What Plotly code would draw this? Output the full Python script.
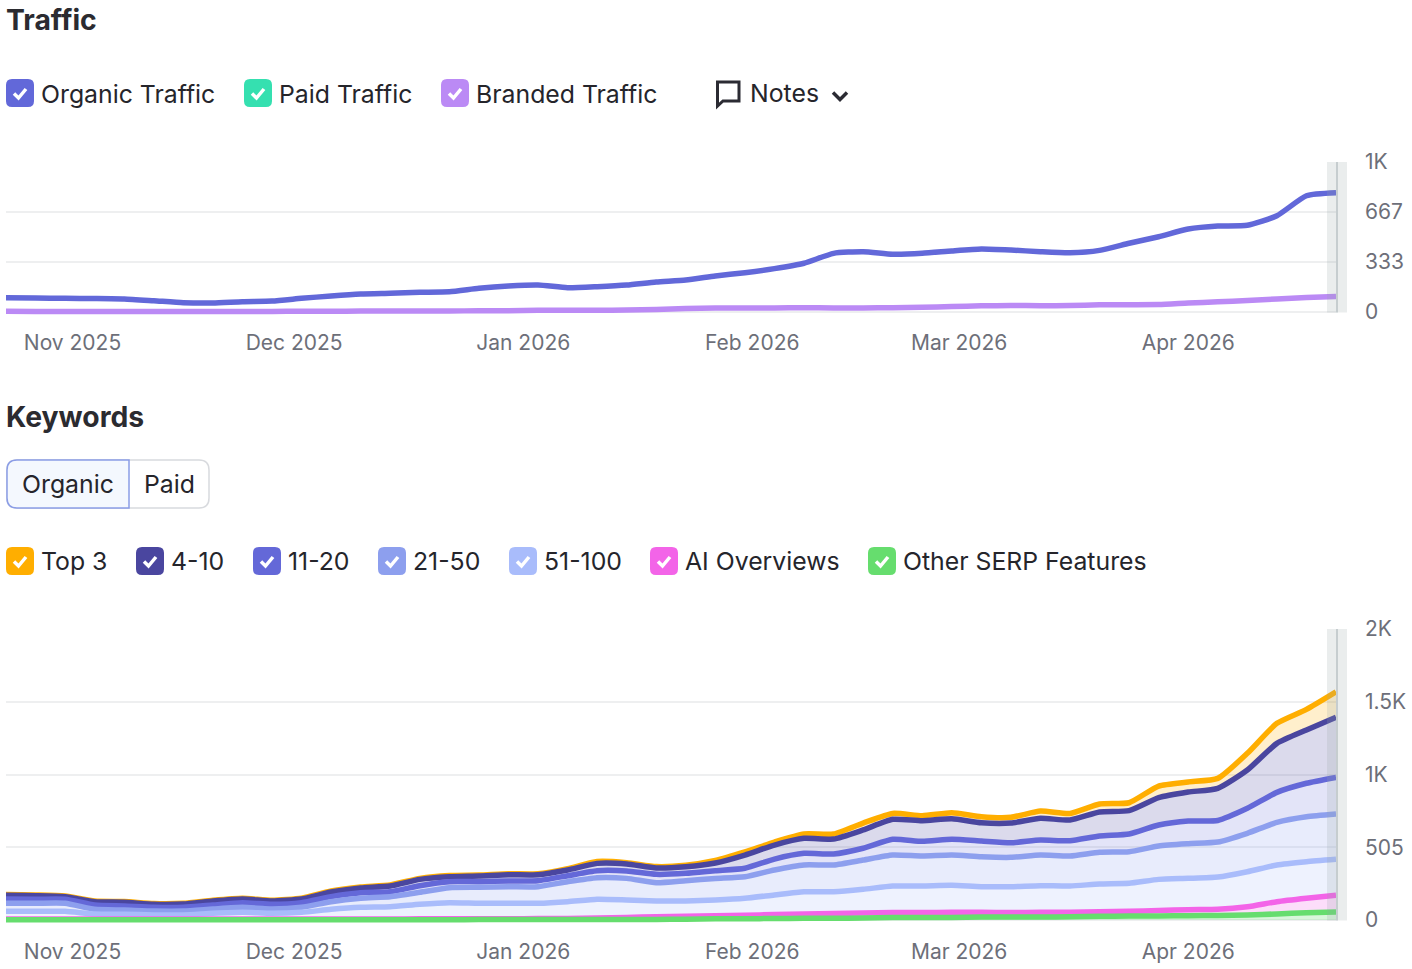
import pandas as pd
import plotly.graph_objects as go

W, H = 1412, 969

# Four-day samples shared by both charts
dates = pd.date_range("2025-10-23", periods=46, freq="4D")
month_ticks = ["2025-11-01", "2025-12-01", "2026-01-01", "2026-02-01", "2026-03-01", "2026-04-01"]
month_labels = ["Nov 2025", "Dec 2025", "Jan 2026", "Feb 2026", "Mar 2026", "Apr 2026"]

organic_traffic = [95, 93, 91, 90, 87, 75, 62, 60, 69, 73, 91, 107, 120, 125, 131, 135,
                   158, 173, 180, 162, 169, 180, 200, 213, 240, 262, 289, 325, 391, 402,
                   385, 391, 407, 420, 413, 402, 395, 411, 458, 502, 553, 573, 578, 642, 775, 795]
branded_traffic = [5, 4, 3, 3, 3, 3, 3, 3, 3, 4, 5, 5, 6, 6, 6, 7,
                   8, 9, 11, 11, 11, 13, 16, 23, 27, 27, 27, 29, 27, 27,
                   29, 31, 37, 41, 43, 42, 43, 48, 49, 50, 60, 68, 77, 87, 97, 103]

# Keyword levels are cumulative: each list is the running total up to that position band
top3_level = [177, 174, 167, 132, 128, 114, 116, 137, 151, 137, 151, 201, 229, 243, 289, 309,
              312, 321, 321, 356, 406, 398, 371, 380, 413, 472, 541, 597, 597, 673,
              740, 724, 745, 717, 713, 756, 740, 805, 814, 930, 958, 983, 1157, 1365, 1462, 1584]
pos4_10_level = [171, 169, 162, 127, 123, 109, 111, 132, 146, 132, 146, 194, 222, 236, 282, 300,
                 305, 314, 314, 347, 393, 389, 361, 370, 396, 451, 520, 567, 562, 625,
                 699, 689, 703, 675, 673, 706, 694, 750, 759, 849, 888, 914, 1041, 1226, 1319, 1407]
pos11_20_level = [146, 144, 144, 104, 97, 88, 88, 104, 120, 109, 120, 162, 189, 196, 238, 266,
                  266, 271, 273, 307, 342, 340, 317, 324, 342, 359, 423, 463, 458, 498,
                  560, 546, 560, 548, 536, 555, 550, 583, 597, 659, 687, 691, 775, 886, 949, 990]
pos21_50_level = [116, 116, 116, 74, 69, 62, 62, 76, 88, 76, 88, 127, 151, 162, 192, 224,
                  227, 231, 231, 266, 294, 289, 259, 273, 288, 300, 347, 382, 382, 416,
                  451, 444, 451, 439, 435, 451, 444, 470, 474, 514, 530, 541, 602, 678, 717, 736]
pos51_100_level = [60, 60, 60, 42, 40, 35, 35, 46, 53, 46, 53, 74, 88, 92, 109, 120,
                   116, 116, 116, 127, 144, 139, 132, 132, 139, 151, 174, 196, 196, 213,
                   236, 236, 241, 231, 231, 238, 236, 250, 255, 282, 289, 298, 335, 382, 405, 421]
ai_level = [7, 7, 7, 7, 7, 7, 7, 7, 7, 7, 7, 7, 7, 7, 8, 8,
            9, 9, 10, 10, 14, 18, 22, 26, 30, 33, 38, 42, 45, 48,
            52, 52, 53, 53, 52, 53, 54, 57, 60, 66, 72, 74, 92, 127, 151, 172]
serp_level = [1, 1, 1, 1, 1, 1, 1, 1, 1, 1, 1, 1, 1, 1, 1, 1,
              3, 3, 3, 3, 3, 4, 4, 5, 8, 9, 10, 12, 12, 14,
              18, 18, 18, 20, 20, 21, 22, 26, 27, 28, 30, 32, 35, 42, 50, 55]

INDIGO = "#6268d9"
PURPLE = "#bb8af5"
TEAL = "#35e0b0"
TEXT = "#25252b"
MUTED = "#6d6f79"
FONT = "Inter"
LINE_WIDTH = 5.5
CURVE = dict(shape="spline", smoothing=0.55)

# Drawn from the bottom of the stack upward
keyword_bands = [
    ("Other SERP Features", serp_level, "#66dd6e", "rgba(102,221,110,0.25)"),
    ("AI Overviews", ai_level, "#f364e8", "rgba(243,100,232,0.22)"),
    ("51-100", pos51_100_level, "#a9bcfb", "rgba(169,188,251,0.2)"),
    ("21-50", pos21_50_level, "#8d9fee", "rgba(141,159,238,0.2)"),
    ("11-20", pos11_20_level, "#6468d8", "rgba(100,104,216,0.18)"),
    ("4-10", pos4_10_level, "#4a469f", "rgba(74,70,159,0.2)"),
    ("Top 3", top3_level, "#ffae00", "rgba(255,174,0,0.2)"),
]


def px(x):
    return x / W


def py(y):
    return 1 - y / H


def rounded_path(x0, y0, x1, y1, r):
    return (f"M {px(x0 + r)} {py(y0)} L {px(x1 - r)} {py(y0)} Q {px(x1)} {py(y0)} {px(x1)} {py(y0 + r)} "
            f"L {px(x1)} {py(y1 - r)} Q {px(x1)} {py(y1)} {px(x1 - r)} {py(y1)} "
            f"L {px(x0 + r)} {py(y1)} Q {px(x0)} {py(y1)} {px(x0)} {py(y1 - r)} "
            f"L {px(x0)} {py(y0 + r)} Q {px(x0)} {py(y0)} {px(x0 + r)} {py(y0)} Z")


def poly_path(points, close=False):
    body = " L ".join(f"{px(x)} {py(y)}" for x, y in points)
    return "M " + body + (" Z" if close else "")


shapes = []
annotations = []


def label(text, x, y, size=24.8, color=TEXT, weight=400, anchor="left"):
    annotations.append(dict(text=text, x=px(x), y=py(y), xref="paper", yref="paper",
                            xanchor=anchor, yanchor="middle", showarrow=False, borderpad=0,
                            font=dict(family=FONT, size=size, color=color, weight=weight)))


def checkbox(x, y, color, text, text_dy):
    shapes.append(dict(type="path", xref="paper", yref="paper", path=rounded_path(x, y, x + 28, y + 28, 6),
                       fillcolor=color, line=dict(width=0)))
    shapes.append(dict(type="path", xref="paper", yref="paper",
                       path=poly_path([(x + 8, y + 14.5), (x + 12.5, y + 19), (x + 20, y + 10)]),
                       line=dict(color="white", width=3.5)))
    label(text, x + 34, y + text_dy)


label("Traffic", 5, 20, size=28.3, weight=700, color="#2b2b30")
label("Keywords", 5, 416.6, size=28.3, weight=700, color="#2b2b30")

checkbox(6, 79, INDIGO, "Organic Traffic", 15)
checkbox(244, 79, TEAL, "Paid Traffic", 15)
checkbox(441, 79, PURPLE, "Branded Traffic", 15)

# Notes speech-bubble icon and dropdown chevron
shapes.append(dict(type="path", xref="paper", yref="paper",
                   path=poly_path([(717.5, 82), (739, 82), (739, 101), (723, 101), (717.5, 106)], close=True),
                   line=dict(color="#2b2b33", width=3)))
shapes.append(dict(type="path", xref="paper", yref="paper",
                   path=poly_path([(833, 92.5), (840, 99.5), (847, 92.5)]),
                   line=dict(color="#2b2b33", width=3.5)))
label("Notes", 748.5, 93.5)

# Organic / Paid toggle
shapes.append(dict(type="path", xref="paper", yref="paper", path=rounded_path(7, 460, 209, 508, 10),
                   fillcolor="white", line=dict(color="#d8dade", width=1.5)))
shapes.append(dict(type="path", xref="paper", yref="paper",
                   path=(f"M {px(17)} {py(460)} L {px(129)} {py(460)} L {px(129)} {py(508)} L {px(17)} {py(508)} "
                         f"Q {px(7)} {py(508)} {px(7)} {py(498)} L {px(7)} {py(470)} Q {px(7)} {py(460)} {px(17)} {py(460)} Z"),
                   fillcolor="#f4f8fe", line=dict(color="#8b9de6", width=1.5)))
label("Organic", 68, 483.5, anchor="center")
label("Paid", 169, 483.5, anchor="center")

legend_boxes = [(6, "#ffae00", "Top 3"), (136, "#4a469f", "4-10"), (253, "#6468d8", "11-20"),
                (378, "#8d9fee", "21-50"), (509, "#a9bcfb", "51-100"), (650, "#f364e8", "AI Overviews"),
                (868, "#66dd6e", "Other SERP Features")]
for bx, colour, name in legend_boxes:
    checkbox(bx, 547, colour, name, 13.8)

# Hover marker band at the latest date on each chart
for top, bottom in [(162, 312.5), (629, 920.5)]:
    shapes.append(dict(type="rect", xref="paper", yref="paper", x0=px(1327), x1=px(1347), y0=py(bottom), y1=py(top),
                       fillcolor="rgba(150,165,165,0.2)", line=dict(width=0)))
    shapes.append(dict(type="line", xref="paper", yref="paper", x0=px(1337), x1=px(1337), y0=py(bottom), y1=py(top),
                       line=dict(color="#c6cdcf", width=2)))

# Baselines at zero; each plot area runs a few pixels lower so thick lines near zero stay whole
for axis_ref in ("y", "y2"):
    shapes.append(dict(type="line", xref="paper", yref=axis_ref, x0=px(6), x1=px(1336), y0=0, y1=0,
                       layer="below", line=dict(color="#d6d8db", width=1.5)))

fig = go.Figure()

fig.add_trace(go.Scatter(x=dates, y=organic_traffic, mode="lines", name="Organic Traffic",
                         line=dict(color=INDIGO, width=LINE_WIDTH, **CURVE), cliponaxis=False, xaxis="x", yaxis="y"))
fig.add_trace(go.Scatter(x=dates, y=branded_traffic, mode="lines", name="Branded Traffic",
                         line=dict(color=PURPLE, width=LINE_WIDTH, **CURVE), cliponaxis=False, xaxis="x", yaxis="y"))

# Fills first, then the outlines from top to bottom so lower bands sit over higher ones
for i, (name, values, colour, fill) in enumerate(keyword_bands):
    fig.add_trace(go.Scatter(x=dates, y=values, mode="lines", line=dict(width=0, color=colour, **CURVE),
                             fill="tozeroy" if i == 0 else "tonexty", fillcolor=fill,
                             showlegend=False, hoverinfo="skip", xaxis="x2", yaxis="y2"))
for name, values, colour, fill in reversed(keyword_bands):
    fig.add_trace(go.Scatter(x=dates, y=values, mode="lines", name=name,
                             line=dict(color=colour, width=LINE_WIDTH, **CURVE), cliponaxis=False, xaxis="x2", yaxis="y2"))

x_range = [dates[0], dates[-1]]
tick_font = dict(family=FONT, size=21, color=MUTED)
x_common = dict(type="date", range=x_range, domain=[px(6), px(1336)], tickmode="array", automargin=False,
                tickvals=month_ticks, ticktext=month_labels, tickfont=tick_font, showgrid=False,
                showline=False, ticks="", zeroline=False)
y_common = dict(side="right", tickmode="array", tickfont=tick_font, showgrid=True, gridcolor="#eeeff0", automargin=False,
                gridwidth=1.5, zeroline=False, ticks="", showline=False, ticklabelstandoff=28)

fig.update_layout(
    width=W, height=H, margin=dict(l=0, r=0, t=0, b=0), autosize=False,
    paper_bgcolor="white", plot_bgcolor="white", showlegend=False,
    xaxis=dict(anchor="y", ticklabelstandoff=12, **x_common),
    xaxis2=dict(anchor="y2", ticklabelstandoff=13, **x_common),
    yaxis=dict(anchor="x", domain=[py(316), py(162)], range=[-4 * 1000 / 150, 1000],
               tickvals=[0, 333, 667, 1000], ticktext=["0", "333", "667", "1K"], **y_common),
    yaxis2=dict(anchor="x2", domain=[py(924), py(629)], range=[-4 * 2020 / 291, 2020],
                tickvals=[0, 505, 1010, 1515, 2020], ticktext=["0", "505", "1K", "1.5K", "2K"], **y_common),
    shapes=shapes, annotations=annotations,
)

fig.write_html("out.html", config=dict(displayModeBar=False))
